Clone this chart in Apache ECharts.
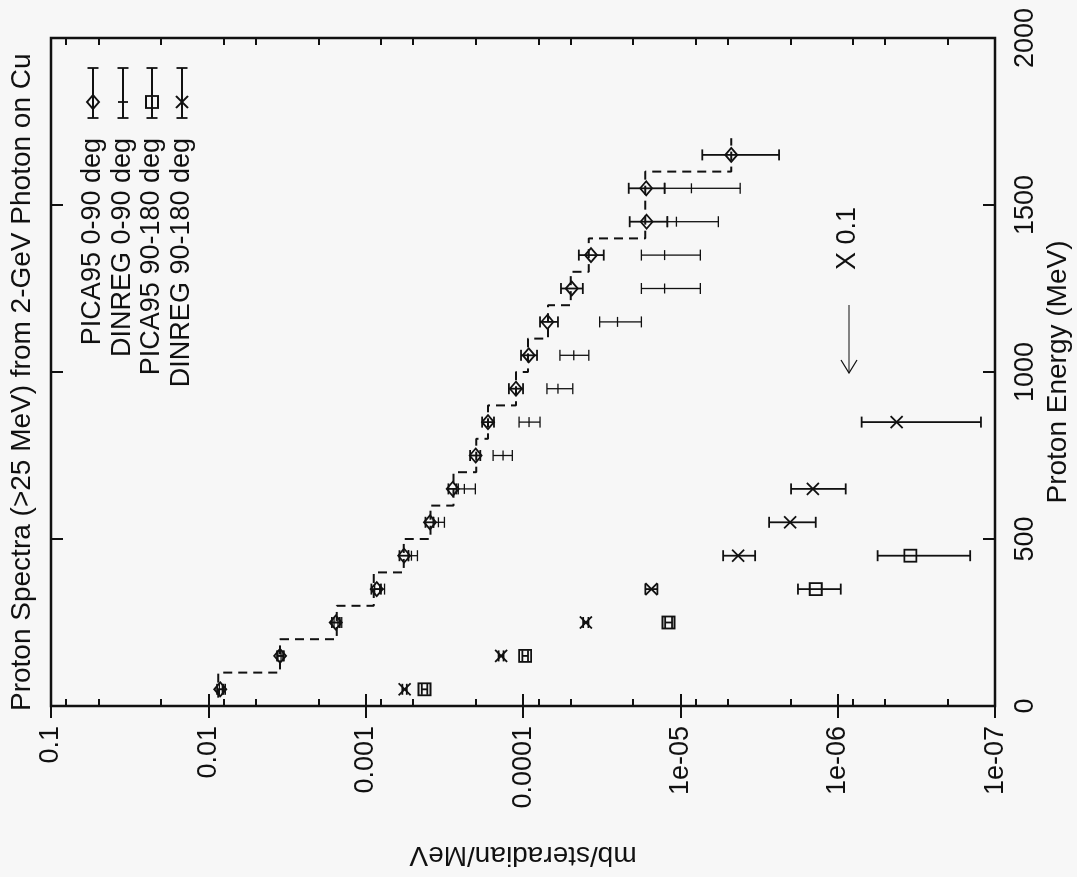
<!DOCTYPE html>
<html>
<head>
<meta charset="utf-8">
<title>Proton Spectra</title>
<script src="https://cdn.jsdelivr.net/npm/echarts@6/dist/echarts.min.js"></script>
<style>
  html, body { margin: 0; padding: 0; width: 1077px; height: 877px; overflow: hidden; background: #f7f7f7; }
  /* chart is drawn upright, then turned a quarter to the left like the scanned page */
  #main { position: absolute; left: 0; top: 0; width: 877px; height: 1077px;
          transform-origin: 0 0; transform: translate(0, 877px) rotate(-90deg); }
</style>
</head>
<body>
<div id="main"></div>
<script>
// energy bin centres (MeV)
const energy = [50, 150, 250, 350, 450, 550, 650, 750, 850, 950, 1050, 1150, 1250, 1350, 1450, 1550, 1650];

// PICA95 0-90 deg
const pica0   = [8.4e-3, 3.5e-3, 1.55e-3, 8.5e-4, 5.7e-4, 3.9e-4, 2.8e-4, 2.0e-4, 1.67e-4, 1.11e-4, 9.2e-5, 7.0e-5, 4.9e-5, 3.7e-5, 1.64e-5, 1.65e-5, 4.75e-6];
const pica0Hi = [8.8e-3, 3.66e-3, 1.64e-3, 9.2e-4, 6.1e-4, 4.17e-4, 2.98e-4, 2.17e-4, 1.82e-4, 1.23e-4, 1.03e-4, 7.8e-5, 5.74e-5, 4.42e-5, 2.1e-5, 2.13e-5, 7.26e-6];
const pica0Lo = [8.0e-3, 3.35e-3, 1.46e-3, 8.0e-4, 5.35e-4, 3.71e-4, 2.65e-4, 1.87e-4, 1.53e-4, 1.0e-4, 8.15e-5, 6.0e-5, 4.17e-5, 3.07e-5, 1.21e-5, 1.26e-5, 2.36e-6];

// DINREG 0-90 deg (50 .. 1550 MeV)
const din0   = [8.15e-3, 3.45e-3, 1.5e-3, 8.15e-4, 5.12e-4, 3.45e-4, 2.36e-4, 1.34e-4, 9.16e-5, 6.0e-5, 4.76e-5, 2.51e-5, 1.26e-5, 1.26e-5, 1.06e-5, 8.51e-6];
const din0Hi = [8.51e-3, 3.61e-3, 1.59e-3, 8.77e-4, 5.35e-4, 3.71e-4, 2.58e-4, 1.55e-4, 1.06e-4, 7.05e-5, 5.83e-5, 3.26e-5, 1.77e-5, 1.77e-5, 1.21e-5, 1.26e-5];
const din0Lo = [7.8e-3, 3.3e-3, 1.42e-3, 7.59e-4, 4.69e-4, 3.16e-4, 2.01e-4, 1.17e-4, 7.8e-5, 4.83e-5, 3.82e-5, 1.77e-5, 7.47e-6, 7.47e-6, 5.74e-6, 4.17e-6];

// PICA95 90-180 deg (x 0.1), 50 .. 450 MeV
const pica9   = [4.23e-4, 9.7e-5, 1.19e-5, 1.38e-6, 3.45e-7];
const pica9Hi = [4.4e-4, 1.01e-4, 1.25e-5, 1.79e-6, 5.58e-7];
const pica9Lo = [4.06e-4, 9.3e-5, 1.13e-5, 9.57e-7, 1.44e-7];

// DINREG 90-180 deg (x 0.1)
const din9E  = [50, 150, 250, 350, 450, 550, 650, 850];
const din9   = [5.66e-4, 1.38e-4, 3.99e-5, 1.53e-5, 4.3e-6, 2.01e-6, 1.44e-6, 4.23e-7];
const din9Hi = [5.85e-4, 1.43e-4, 4.15e-5, 1.67e-5, 5.35e-6, 2.73e-6, 1.98e-6, 7.05e-7];
const din9Lo = [5.48e-4, 1.33e-4, 3.84e-5, 1.40e-5, 3.35e-6, 1.38e-6, 8.9e-7, 1.23e-7];

// dashed histogram
const stepEdges = [25, 100, 200, 300, 400, 500, 600, 700, 800, 900, 1000, 1100, 1200, 1300, 1400, 1500, 1600, 1700];
const stepVals  = [8.64e-3, 3.5e-3, 1.53e-3, 8.9e-4, 5.74e-4, 3.88e-4, 2.77e-4, 1.98e-4, 1.67e-4, 1.11e-4, 9.29e-5, 6.95e-5, 4.97e-5, 3.82e-5, 1.67e-5, 1.67e-5, 4.75e-6];

// axis ticks
const logMinorTicks = [0.08, 0.05, 0.02, 0.008, 0.005, 0.002, 8e-4, 5e-4, 2e-4, 8e-5, 5e-5, 2e-5, 8e-6, 5e-6, 2e-6, 8e-7, 5e-7, 2e-7];

const legendNames  = ['PICA95 0-90 deg', 'DINREG 0-90 deg', 'PICA95 90-180 deg', 'DINREG 90-180 deg'];
const legendShapes = ['diamond', 'plus', 'square', 'cross'];
const titleText = 'Proton Spectra (>25 MeV) from 2-GeV Photon on Cu';

const ink = '#111';
const FONT = "'Liberation Sans', Arial, Helvetica, sans-serif";

function markerShapes(shape, x, y, lw, barVertical) {
  const s = { stroke: ink, lineWidth: lw, fill: 'none' };
  if (shape === 'diamond') {
    return [{ type: 'polygon', shape: { points: [[x - 7, y], [x, y - 6], [x + 7, y], [x, y + 6]] }, style: s }];
  }
  if (shape === 'plus') {
    return barVertical
      ? [{ type: 'line', shape: { x1: x - 5, y1: y, x2: x + 5, y2: y }, style: s }]
      : [{ type: 'line', shape: { x1: x, y1: y - 5, x2: x, y2: y + 5 }, style: s }];
  }
  if (shape === 'square') {
    return [{ type: 'rect', shape: { x: x - 6, y: y - 6, width: 12, height: 12 }, style: s }];
  }
  return [
    { type: 'line', shape: { x1: x - 6, y1: y - 6, x2: x + 6, y2: y + 6 }, style: s },
    { type: 'line', shape: { x1: x - 6, y1: y + 6, x2: x + 6, y2: y - 6 }, style: s }
  ];
}

function errorBarSeries(name, shape, es, vals, his, los, lw) {
  return {
    name: name,
    type: 'custom',
    xAxisIndex: 0,
    yAxisIndex: 0,
    data: es.map((e, i) => [e, vals[i], his[i], los[i]]),
    renderItem: function (params, api) {
      const e = api.value(0);
      const p = api.coord([e, api.value(1)]);
      const a = api.coord([e, api.value(2)]);
      const b = api.coord([e, api.value(3)]);
      const st = { stroke: ink, lineWidth: lw };
      const cap = 5.5;
      const children = [
        { type: 'line', shape: { x1: a[0], y1: a[1], x2: b[0], y2: b[1] }, style: st },
        { type: 'line', shape: { x1: a[0] - cap, y1: a[1], x2: a[0] + cap, y2: a[1] }, style: st },
        { type: 'line', shape: { x1: b[0] - cap, y1: b[1], x2: b[0] + cap, y2: b[1] }, style: st }
      ].concat(markerShapes(shape, p[0], p[1], lw, true));
      return { type: 'group', children: children };
    }
  };
}

// step histogram points from bin edges
const stepPts = [];
stepVals.forEach((v, i) => {
  stepPts.push([stepEdges[i], v]);
  stepPts.push([stepEdges[i + 1], v]);
});

// legend drawn by hand (text then error-bar sample)
const legendRowY = [93, 123, 152, 182];
const legendGraphic = [];
legendNames.forEach((name, i) => {
  const y = legendRowY[i];
  const st = { stroke: ink, lineWidth: 1.8 };
  legendGraphic.push({ type: 'text', x: 739, y: y,
    style: { text: name, fontFamily: FONT, fontSize: 27, fill: ink, align: 'right', verticalAlign: 'middle' } });
  legendGraphic.push({ type: 'line', shape: { x1: 759, y1: y, x2: 809, y2: y }, style: st });
  legendGraphic.push({ type: 'line', shape: { x1: 759, y1: y - 5.5, x2: 759, y2: y + 5.5 }, style: st });
  legendGraphic.push({ type: 'line', shape: { x1: 809, y1: y - 5.5, x2: 809, y2: y + 5.5 }, style: st });
  markerShapes(legendShapes[i], 775, y, 1.8, false).forEach(m => legendGraphic.push(m));
});

// "X 0.1" note with arrow
legendGraphic.push({ type: 'text', x: 607, y: 848,
  style: { text: 'X 0.1', fontFamily: FONT, fontSize: 27, fill: ink, align: 'left', verticalAlign: 'middle' } });
legendGraphic.push({ type: 'line', shape: { x1: 572, y1: 849, x2: 504, y2: 849 }, style: { stroke: ink, lineWidth: 1.2 } });
legendGraphic.push({ type: 'polyline', shape: { points: [[517, 841], [504, 849], [517, 857]] }, style: { stroke: ink, lineWidth: 1.2, fill: 'none' } });

function logLabel(v) {
  const k = Math.round(Math.log10(v));
  return k >= -4 ? v.toFixed(-k) : '1e-0' + (-k);
}

const tickStyle = { color: ink, width: 2 };
const minorLog = logMinorTicks.map(v => Math.log10(v));

function minorAxis(side) {
  return {
    type: 'value', position: side, min: -7, max: -1,
    axisLine: { show: false },
    axisTick: { show: true, inside: true, length: 7, lineStyle: tickStyle, customValues: minorLog },
    axisLabel: { show: false, customValues: minorLog },
    splitLine: { show: false }
  };
}

const chart = echarts.init(document.getElementById('main'));
const option = {
  backgroundColor: '#f7f7f7',
  animation: false,
  title: {
    text: titleText, left: 166, top: 8, padding: 0,
    textStyle: { fontFamily: FONT, fontSize: 28, fontWeight: 'normal', color: ink }
  },
  grid: { left: 169, right: 38, top: 51, bottom: 76, show: true, borderColor: ink, borderWidth: 2.5 },
  xAxis: [
    {
      type: 'value', position: 'bottom', min: 0, max: 2000, interval: 500,
      name: 'Proton Energy (MeV)', nameLocation: 'middle', nameGap: 47,
      nameTextStyle: { fontFamily: FONT, fontSize: 28, color: ink },
      axisLine: { show: false },
      axisTick: { inside: true, length: 12, lineStyle: tickStyle },
      axisLabel: { margin: 17, fontFamily: FONT, fontSize: 27, color: ink, showMinLabel: true, showMaxLabel: true,
                   formatter: v => String(v) },
      splitLine: { show: false }
    },
    {
      type: 'value', position: 'top', min: 0, max: 2000, interval: 500,
      axisLine: { show: false },
      axisTick: { inside: true, length: 12, lineStyle: tickStyle },
      axisLabel: { show: false },
      splitLine: { show: false }
    }
  ],
  yAxis: [
    {
      type: 'log', logBase: 10, position: 'left', min: 1e-7, max: 0.1,
      name: 'mb/steradian/MeV', nameLocation: 'middle', nameRotate: 90, nameGap: 135,
      nameTextStyle: { fontFamily: FONT, fontSize: 28, color: ink },
      axisLine: { show: false },
      axisTick: { inside: true, length: 12, lineStyle: tickStyle },
      axisLabel: { margin: 20, fontFamily: FONT, fontSize: 27, color: ink, formatter: logLabel, showMinLabel: true, showMaxLabel: true },
      splitLine: { show: false }
    },
    {
      type: 'log', logBase: 10, position: 'right', min: 1e-7, max: 0.1,
      axisLine: { show: false },
      axisTick: { inside: true, length: 12, lineStyle: tickStyle },
      axisLabel: { show: false },
      splitLine: { show: false }
    },
    minorAxis('left'),
    minorAxis('right')
  ],
  graphic: { elements: legendGraphic },
  series: [
    {
      name: 'histogram', type: 'line', xAxisIndex: 0, yAxisIndex: 0,
      data: stepPts, symbol: 'none', silent: true,
      lineStyle: { color: ink, width: 2, type: [9, 6] }
    },
    errorBarSeries(legendNames[0], 'diamond', energy, pica0, pica0Hi, pica0Lo, 1.8),
    errorBarSeries(legendNames[1], 'plus', energy.slice(0, din0.length), din0, din0Hi, din0Lo, 1.3),
    errorBarSeries(legendNames[2], 'square', energy.slice(0, pica9.length), pica9, pica9Hi, pica9Lo, 1.8),
    errorBarSeries(legendNames[3], 'cross', din9E, din9, din9Hi, din9Lo, 1.8)
  ]
};
chart.setOption(option);
</script>
</body>
</html>
